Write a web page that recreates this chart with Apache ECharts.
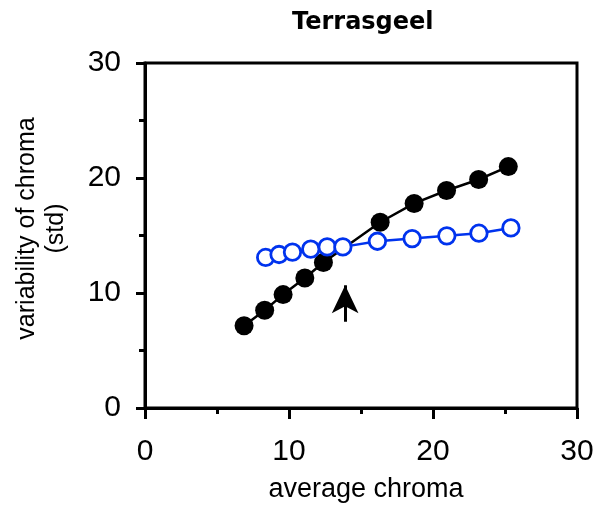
<!DOCTYPE html>
<html>
<head>
<meta charset="utf-8">
<script src="https://cdn.jsdelivr.net/npm/echarts@6/dist/echarts.min.js"></script>
<style>
html,body{margin:0;padding:0;background:#fff;}
#c{width:605px;height:508px;}
</style>
</head>
<body>
<div id="c"></div>
<script>
var titleText = 'Terrasgeel';
var xName = 'average chroma';
var yName = 'variability of chroma\n(std)';

var blackX = [6.88, 8.31, 9.59, 11.10, 12.39, 16.33, 18.69, 20.94, 23.17, 25.23];
var blackY = [7.15, 8.50, 9.86, 11.30, 12.65, 16.15, 17.79, 18.91, 19.87, 20.99];

var blueX = [8.38, 9.31, 10.24, 11.51, 12.65, 13.74, 16.14, 18.55, 20.96, 23.19, 25.41];
var blueY = [13.09, 13.35, 13.56, 13.82, 14.01, 14.01, 14.50, 14.73, 14.97, 15.20, 15.66];

var arrowX = 13.9;
var arrowY = [7.5, 10.67];

function pairs(xs, ys) { return xs.map(function (x, i) { return [x, ys[i]]; }); }

var FONT = 'Liberation Sans';
var chart = echarts.init(document.getElementById('c'), null, {renderer: 'canvas'});
chart.setOption({
  animation: false,
  backgroundColor: '#fff',
  title: {
    text: titleText,
    left: 287,
    top: 6,
    textStyle: {fontFamily: 'DejaVu Sans', fontWeight: 'bold', fontSize: 24, color: '#000'}
  },
  grid: {
    left: 145, right: 28, top: 63, bottom: 98,
    show: true, borderColor: '#000', borderWidth: 3, backgroundColor: 'transparent'
  },
  xAxis: {
    type: 'value', min: 0, max: 30, interval: 10,
    name: xName, nameLocation: 'middle', nameGap: 68,
    nameTextStyle: {fontFamily: FONT, fontSize: 27, color: '#000', padding: [0, 0, 0, 10]},
    axisLine: {show: true, onZero: false, lineStyle: {color: '#000', width: 3}},
    axisTick: {show: true, inside: false, length: 11, lineStyle: {color: '#000', width: 3}},
    minorTick: {show: true, splitNumber: 2, length: 6, lineStyle: {color: '#000', width: 3}},
    splitLine: {show: false},
    axisLabel: {fontFamily: FONT, fontSize: 30, color: '#000', margin: 29}
  },
  yAxis: {
    type: 'value', min: 0, max: 30, interval: 10,
    name: yName, nameLocation: 'middle', nameGap: 74, nameRotate: 90,
    nameTextStyle: {fontFamily: FONT, fontSize: 25, lineHeight: 29, color: '#000', align: 'center', padding: [0, 0, 0, 14]},
    axisLine: {show: true, onZero: false, lineStyle: {color: '#000', width: 3}},
    axisTick: {show: true, inside: false, length: 9, lineStyle: {color: '#000', width: 3}},
    minorTick: {show: true, splitNumber: 2, length: 6, lineStyle: {color: '#000', width: 3}},
    splitLine: {show: false},
    axisLabel: {fontFamily: FONT, fontSize: 30, color: '#000', margin: 24}
  },
  series: [
    {
      type: 'line', data: pairs(blackX, blackY),
      symbol: 'circle', symbolSize: 19,
      lineStyle: {color: '#000', width: 2.5},
      itemStyle: {color: '#000', borderWidth: 0},
      z: 2,
      markLine: {
        silent: true,
        symbol: ['none', 'arrow'],
        symbolSize: [20, 28],
        label: {show: false},
        lineStyle: {color: '#000', width: 3, type: 'solid'},
        data: [[{coord: [arrowX, arrowY[0]]}, {coord: [arrowX, arrowY[1]]}]]
      }
    },
    {
      type: 'line', data: pairs(blueX, blueY),
      symbol: 'circle', symbolSize: 16.5,
      lineStyle: {color: '#0033ee', width: 2.5},
      itemStyle: {color: '#fff', borderColor: '#0033ee', borderWidth: 2.8},
      z: 3
    }
  ]
});
</script>
</body>
</html>
